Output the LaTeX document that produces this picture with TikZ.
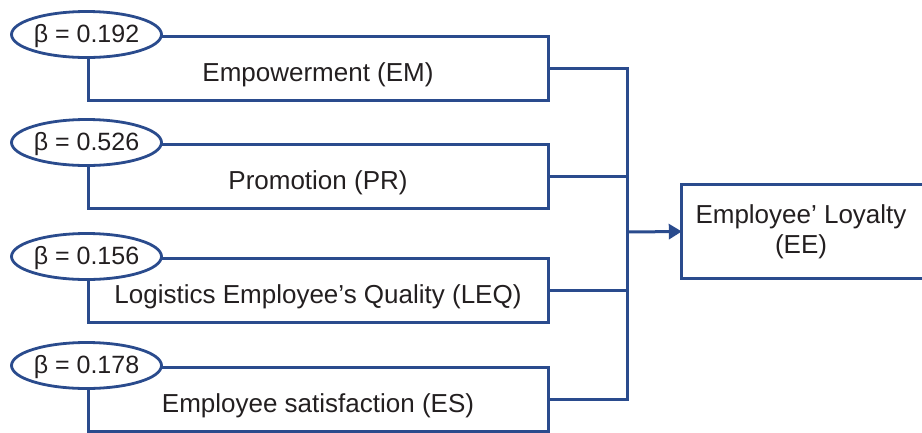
\documentclass[tikz,border=0pt]{standalone}
\usepackage{fontspec}
\setmainfont{Liberation Sans}
\usepackage{xcolor}
\usetikzlibrary{arrows.meta}
\usetikzlibrary{shapes.geometric}

\definecolor{pathblue}{HTML}{2A4B8D}
\definecolor{txtgray}{HTML}{231F20}

\tikzset{
    factor/.style={draw=pathblue, line width=3pt, minimum width=460pt,
        minimum height=64pt, inner sep=0pt, text=txtgray,
        text height=26.5pt, text depth=0pt,
        font=\fontsize{26}{30}\selectfont},
    coef/.style={draw=pathblue, fill=white, line width=2.8pt, ellipse,
        minimum width=150pt, minimum height=46pt, inner sep=-1.5pt, text=txtgray,
        text height=18pt, text depth=2pt,
        font=\fontsize{25}{30}\selectfont},
    link/.style={draw=pathblue, line width=3pt},
}

\begin{document}
\begin{tikzpicture}[x=1pt, y=-1pt]
        \useasboundingbox (0,0) rectangle (922,432);

        % the four factors
        \node[factor] (em)  at (318,68)  {Empowerment (EM)};
        \node[factor] (pr)  at (318,176) {Promotion (PR)};
        \node[factor] (leq) at (318,290) {Logistics Employee’s Quality (LEQ)};
        \node[factor] (es)  at (318,399) {Employee satisfaction (ES)};

        % path coefficients
        \node[coef] (b1) at (em.north west)  {β = 0.192};
        \node[coef] (b2) at (pr.north west)  {β = 0.526};
        \node[coef] (b3) at (leq.north west) {β = 0.156};
        \node[coef] (b4) at (es.north west)  {β = 0.178};

        % outcome, box runs off the right side
        \node[minimum width=238pt, minimum height=93pt, inner sep=0pt,
            align=center, text=txtgray, font=\fontsize{26}{30}\selectfont]
            (ee) at (801,231.5) {Employee’ Loyalty\\(EE)};
        \draw[link] ([xshift=250pt]ee.north west) -- (ee.north west)
            -- (ee.south west) -- ([xshift=250pt]ee.south west);

        \coordinate (bus) at (627,232);

        \draw[link] (em.east) -| (bus);
        \draw[link] (pr.east) -| (bus);
        \draw[link] (leq.east) -| (bus);
        \draw[link] (es.east) -| (bus);
        \draw[link, -{Triangle[length=13pt,width=15pt]}] (bus) -- (ee.west);
    \end{tikzpicture}
\end{document}
